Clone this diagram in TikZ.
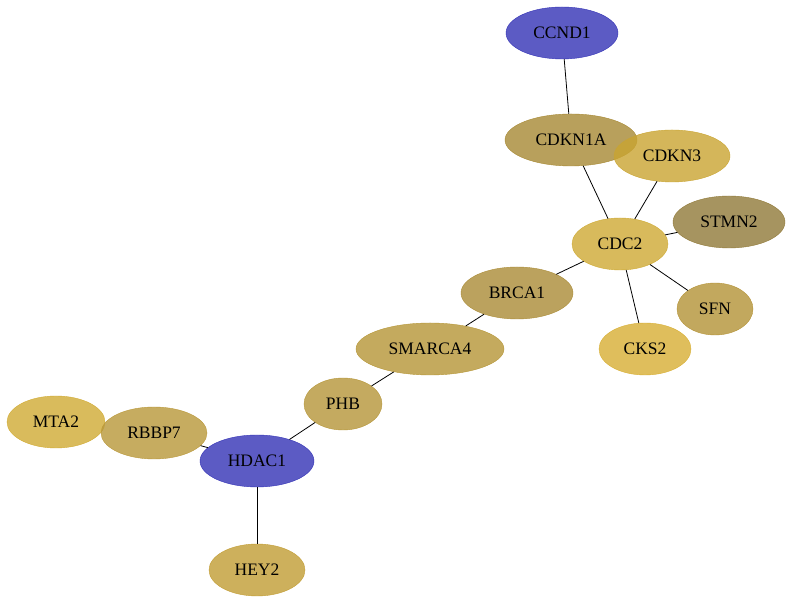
\documentclass[tikz,border=0pt]{standalone}
\usepackage{fontspec}
\setmainfont{Liberation Serif}
\usetikzlibrary{shapes.geometric}

\definecolor{hubblue}{RGB}{51,50,181}
\definecolor{cdknA}{RGB}{166,136,51}
\definecolor{cdknB}{RGB}{201,164,49}
\definecolor{stmn}{RGB}{144,121,56}
\definecolor{cdc}{RGB}{206,169,51}
\definecolor{sfn}{RGB}{179,146,54}
\definecolor{cks}{RGB}{215,174,51}
\definecolor{brca}{RGB}{170,139,54}
\definecolor{smarca}{RGB}{181,149,54}
\definecolor{phb}{RGB}{181,149,56}
\definecolor{mta}{RGB}{208,170,51}
\definecolor{rbbp}{RGB}{184,151,56}
\definecolor{hey}{RGB}{193,156,51}

\begin{document}
\begin{tikzpicture}[x=1pt, y=1pt]
			\tikzset{gene/.style={shape = ellipse, draw, inner sep = 0pt,
					minimum height = 52pt, fill opacity = 0.8, text opacity = 1,
					font = \fontsize{17.5}{20}\selectfont}}
			\tikzset{link/.style={draw = black, line width = 0.8pt}}
			\useasboundingbox (0, 0) rectangle (792, 604);
			%vertices
			\node[gene, fill = hubblue, draw = hubblue, minimum width = 112pt] (ccnd1) at (562, 571) {CCND1};
			\node[gene, fill = cdknA, draw = cdknA, minimum width = 132pt] (cdkn1a) at (571, 464) {CDKN1A};
			\node[gene, fill = cdknB, draw = cdknB, minimum width = 116pt] (cdkn3) at (672, 448) {CDKN3};
			\node[gene, fill = stmn, draw = stmn, minimum width = 112pt] (stmn2) at (729, 382) {STMN2};
			\node[gene, fill = cdc, draw = cdc, minimum width = 96pt] (cdc2) at (620, 360) {CDC2};
			\node[gene, fill = sfn, draw = sfn, minimum width = 76pt] (sfn) at (715, 295) {SFN};
			\node[gene, fill = cks, draw = cks, minimum width = 92pt] (cks2) at (645, 255) {CKS2};
			\node[gene, fill = brca, draw = brca, minimum width = 112pt] (brca1) at (517, 311) {BRCA1};
			\node[gene, fill = smarca, draw = smarca, minimum width = 148pt] (smarca4) at (430, 255) {SMARCA4};
			\node[gene, fill = phb, draw = phb, minimum width = 78pt] (phb) at (343, 200) {PHB};
			\node[gene, fill = mta, draw = mta, minimum width = 98pt] (mta2) at (56, 182) {MTA2};
			\node[gene, fill = rbbp, draw = rbbp, minimum width = 106pt] (rbbp7) at (154, 171) {RBBP7};
			\node[gene, fill = hubblue, draw = hubblue, minimum width = 114pt] (hdac1) at (257, 143) {HDAC1};
			\node[gene, fill = hey, draw = hey, minimum width = 96pt] (hey2) at (257, 34) {HEY2};
			%edges
			\path (ccnd1) edge[link] (cdkn1a);
			\path (cdkn1a) edge[link] (cdc2);
			\path (cdkn3) edge[link] (cdc2);
			\path (stmn2) edge[link] (cdc2);
			\path (sfn) edge[link] (cdc2);
			\path (cks2) edge[link] (cdc2);
			\path (brca1) edge[link] (cdc2);
			\path (brca1) edge[link] (smarca4);
			\path (smarca4) edge[link] (phb);
			\path (phb) edge[link] (hdac1);
			\path (rbbp7) edge[link] (hdac1);
			\path (hdac1) edge[link] (hey2);
			\end{tikzpicture}
\end{document}
